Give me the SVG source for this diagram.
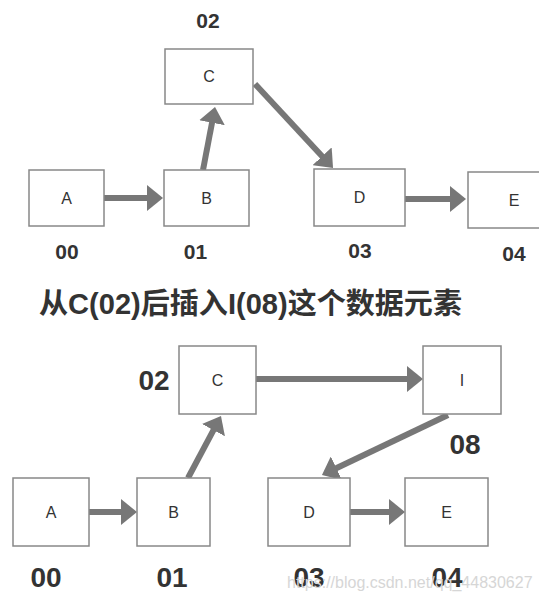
<svg xmlns="http://www.w3.org/2000/svg" width="539" height="603" viewBox="0 0 539 603">
<defs>
<style>
.box rect{fill:#fff;stroke:#888;stroke-width:1.5}
.box text{font-family:"Liberation Sans",Arial,sans-serif;font-size:16px;fill:#333;text-anchor:middle;dominant-baseline:central}
.lbl{font-family:"Liberation Sans",Arial,sans-serif;font-weight:bold;fill:#333;text-anchor:middle}
.s{font-size:21px}
.b{font-size:28px}
.conn line{stroke:#777;stroke-width:6;marker-end:url(#ah)}
.title{font-family:"Liberation Sans",Arial,"Noto Sans CJK SC",sans-serif;font-weight:bold;font-size:29px;fill:#333}
.wm{font-family:"Liberation Sans",Arial,sans-serif;font-size:16px;fill:#d6d6d6}
</style>
<marker id="ah" viewBox="0 0 16 26" refX="2" refY="13" markerWidth="16" markerHeight="26" markerUnits="userSpaceOnUse" orient="auto">
<path d="M0,0 L16,13 L0,26 Z" fill="#777"/>
</marker>
</defs>
<rect width="539" height="603" fill="#fff"/>

<g id="top-connectors" class="conn">
<line x1="104" y1="198" x2="149" y2="198"/>
<line x1="203" y1="170" x2="212.4" y2="120.8"/>
<line x1="255" y1="84" x2="323.5" y2="157.7"/>
<line x1="405" y1="199" x2="452" y2="199"/>
</g>

<g id="top-A" class="box"><rect x="29" y="170" width="75" height="56"/><text x="66.5" y="198">A</text></g>
<g id="top-B" class="box"><rect x="164" y="170" width="85" height="56"/><text x="206.5" y="198">B</text></g>
<g id="top-C" class="box"><rect x="165" y="49" width="88" height="55"/><text x="209" y="76.5">C</text></g>
<g id="top-D" class="box"><rect x="314" y="169" width="91" height="57"/><text x="359.5" y="197.5">D</text></g>
<g id="top-E" class="box"><rect x="468" y="172" width="90" height="56"/><text x="514" y="200">E</text></g>

<g id="top-labels">
<text class="lbl s" x="208" y="28">02</text>
<text class="lbl s" x="67" y="259">00</text>
<text class="lbl s" x="195.5" y="259">01</text>
<text class="lbl s" x="360" y="258">03</text>
<text class="lbl s" x="514" y="261">04</text>
</g>

<text class="title" x="39" y="314" textLength="423" lengthAdjust="spacingAndGlyphs">从C(02)后插入I(08)这个数据元素</text>

<g id="bottom-connectors" class="conn">
<line x1="89" y1="512" x2="123" y2="512"/>
<line x1="188" y1="478" x2="214.4" y2="428.4"/>
<line x1="256" y1="379" x2="409" y2="379"/>
<line x1="448" y1="415" x2="334.6" y2="469"/>
<line x1="350" y1="512" x2="391" y2="512"/>
</g>

<g id="bot-A" class="box"><rect x="13" y="478" width="76" height="68"/><text x="51" y="512">A</text></g>
<g id="bot-B" class="box"><rect x="137" y="478" width="73" height="68"/><text x="173.5" y="512">B</text></g>
<g id="bot-C" class="box"><rect x="179" y="346" width="77" height="68"/><text x="217.5" y="380">C</text></g>
<g id="bot-I" class="box"><rect x="423" y="346" width="78" height="68"/><text x="462" y="380">I</text></g>
<g id="bot-D" class="box"><rect x="268" y="478" width="82" height="68"/><text x="309" y="512">D</text></g>
<g id="bot-E" class="box"><rect x="405" y="478" width="83" height="68"/><text x="446.5" y="512">E</text></g>

<g id="bottom-labels">
<text class="lbl b" x="154" y="390">02</text>
<text class="lbl b" x="465" y="454">08</text>
<text class="lbl b" x="46" y="587">00</text>
<text class="lbl b" x="172" y="587">01</text>
<text class="lbl b" x="309" y="587">03</text>
<text class="lbl b" x="447" y="587">04</text>
</g>

<text class="wm" x="287" y="588">https://blog.csdn.net/qq_44830627</text>
</svg>
